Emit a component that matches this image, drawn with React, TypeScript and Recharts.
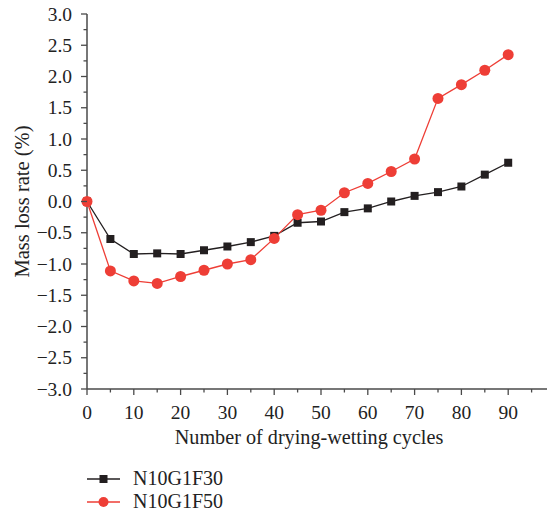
import React from "react";
import { LineChart, Line, XAxis, YAxis } from "recharts";

// drying-wetting cycles
const cycles = [0, 5, 10, 15, 20, 25, 30, 35, 40, 45, 50, 55, 60, 65, 70, 75, 80, 85, 90];
const f30 = [0, -0.6, -0.84, -0.83, -0.84, -0.78, -0.72, -0.65, -0.55, -0.34, -0.32, -0.17, -0.11, 0, 0.09, 0.15, 0.24, 0.43, 0.62];
const f50 = [0, -1.11, -1.27, -1.31, -1.2, -1.1, -1.0, -0.93, -0.59, -0.21, -0.14, 0.14, 0.29, 0.48, 0.68, 1.65, 1.87, 2.1, 2.35];

const xTicks = [0, 5, 10, 15, 20, 25, 30, 35, 40, 45, 50, 55, 60, 65, 70, 75, 80, 85, 90, 95, 100];
const yTicks = [
  -3, -2.75, -2.5, -2.25, -2, -1.75, -1.5, -1.25, -1, -0.75, -0.5, -0.25, 0,
  0.25, 0.5, 0.75, 1, 1.25, 1.5, 1.75, 2, 2.25, 2.5, 2.75, 3,
];

const FONT = "'Liberation Serif', 'DejaVu Serif', serif";
const AXIS = "#4a4a4a";
const BLACK = "#231f20";
const RED = "#ee3e36";

const data = cycles.map((c, i) => ({ cycle: c, f30: f30[i], f50: f50[i] }));

const fmt = (v: number) => (v < 0 ? "\u2212" + Math.abs(v).toFixed(1) : v.toFixed(1));

const XTick = (props: any) => {
  const { x, y, payload } = props;
  const v = payload.value as number;
  const major = v % 10 === 0;
  return (
    <g>
      <line x1={x} x2={x} y1={y} y2={y + (major ? 6 : 3.5)} stroke={AXIS} strokeWidth={1.3} />
      {major && v <= 90 && (
        <text x={x} y={y + 30} textAnchor="middle" fontFamily={FONT} fontSize={19.5} fill="#222">
          {v}
        </text>
      )}
    </g>
  );
};

const YTick = (props: any) => {
  const { x, y, payload } = props;
  const v = payload.value as number;
  const major = Number.isInteger(v * 2);
  return (
    <g>
      <line x1={x} x2={x - (major ? 6 : 3.5)} y1={y} y2={y} stroke={AXIS} strokeWidth={1.3} />
      {major && (
        <text x={x - 15} y={y + 6.5} textAnchor="end" fontFamily={FONT} fontSize={19.5} fill="#222">
          {fmt(v)}
        </text>
      )}
    </g>
  );
};

const SquareDot = (props: any) => {
  const { cx, cy, index } = props;
  if (cx == null || cy == null) return <g key={`sq-${index}`} />;
  return <rect key={`sq-${index}`} x={cx - 4} y={cy - 4} width={8} height={8} fill={BLACK} />;
};

const YTitle = (props: any) => {
  const { viewBox } = props;
  const cy = viewBox.y + viewBox.height / 2;
  return (
    <text
      x={22}
      y={cy}
      transform={`rotate(-90, 22, ${cy})`}
      textAnchor="middle"
      dominantBaseline="central"
      fontFamily={FONT}
      fontSize={20.5}
      fill="#222"
    >
      Mass loss rate (%)
    </text>
  );
};

const LegendRow = ({ color, square, label }: { color: string; square: boolean; label: string }) => (
  <div style={{ display: "flex", alignItems: "center", height: 23 }}>
    <svg width={46} height={14}>
      <line x1={0} x2={33} y1={7} y2={7} stroke={color} strokeWidth={1.3} />
      {square ? (
        <rect x={12.5} y={3} width={8} height={8} fill={color} />
      ) : (
        <circle cx={16.5} cy={7} r={5} fill={color} />
      )}
    </svg>
    <span style={{ fontFamily: FONT, fontSize: 20, color: "#222" }}>{label}</span>
  </div>
);

export default function App() {
  return (
    <div style={{ position: "absolute", left: 0, top: 0, width: 547, height: 513, overflow: "hidden", background: "#fff" }}>
      <LineChart width={560} height={513} data={data} margin={{ top: 14, right: 5, left: 0, bottom: 0 }}>
        <XAxis
          dataKey="cycle"
          type="number"
          domain={[0, 100]}
          ticks={xTicks}
          interval={0}
          height={124}
          tickSize={0}
          tickMargin={0}
          tick={<XTick />}
          tickLine={false}
          axisLine={{ stroke: AXIS, strokeWidth: 1.5 }}
          label={{
            value: "Number of drying-wetting cycles",
            position: "insideTop",
            offset: 41,
            dx: -12,
            fontFamily: FONT,
            fontSize: 20.2,
            fill: "#222",
          }}
        />
        <XAxis
          xAxisId="top"
          orientation="top"
          dataKey="cycle"
          type="number"
          domain={[0, 100]}
          height={0}
          tick={false}
          tickLine={false}
          axisLine={{ stroke: AXIS, strokeWidth: 1.5 }}
        />
        <YAxis
          type="number"
          domain={[-3, 3]}
          ticks={yTicks}
          interval={0}
          width={87}
          tickSize={0}
          tickMargin={0}
          tick={<YTick />}
          tickLine={false}
          axisLine={{ stroke: AXIS, strokeWidth: 1.5 }}
          label={<YTitle />}
        />
        <Line
          dataKey="f30"
          stroke={BLACK}
          strokeWidth={1.3}
          dot={SquareDot}
          activeDot={false}
          isAnimationActive={false}
        />
        <Line
          dataKey="f50"
          stroke={RED}
          strokeWidth={1.3}
          dot={{ r: 5.5, fill: RED, stroke: "none" }}
          activeDot={false}
          isAnimationActive={false}
        />
      </LineChart>
      <div style={{ position: "absolute", left: 87, top: 467 }}>
        <LegendRow color={BLACK} square label="N10G1F30" />
        <LegendRow color={RED} square={false} label="N10G1F50" />
      </div>
    </div>
  );
}
